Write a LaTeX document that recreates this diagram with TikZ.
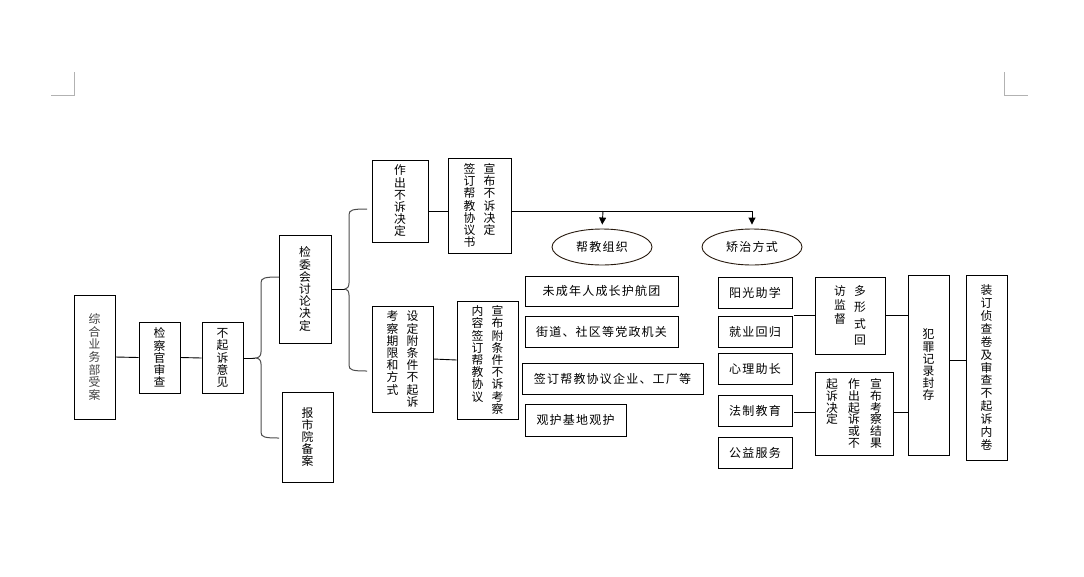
\documentclass[tikz,border=0pt]{standalone}
\usepackage{fontspec}
\setmainfont{Noto Sans CJK SC}
\newfontfamily\hfont[LetterSpace=10]{Noto Sans CJK SC}
\XeTeXlinebreaklocale "zh"
\XeTeXlinebreakskip=0pt plus 1pt
\usetikzlibrary{shapes.geometric,arrows.meta}
\newcommand{\vcol}[2][12.2pt]{\parbox[t]{14pt}{\baselineskip=#1\centering #2}}
\tikzset{
vbox/.style={draw,line width=0.9pt,inner sep=0pt,font=\fontsize{11.8}{12.2}\selectfont},
hbox/.style={draw,line width=0.9pt,inner sep=0pt,font=\hfont\fontsize{12}{14}\selectfont},
oval/.style={ellipse,draw=black!80!brown,line width=0.9pt,inner sep=0pt,minimum width=100pt,minimum height=36pt,font=\hfont\fontsize{12}{14}\selectfont},
brace/.style={draw=black!70,line width=1pt},
link/.style={line width=0.9pt},
cropmark/.style={draw=black!30,line width=0.8pt}
}
\begin{document}
\begin{tikzpicture}[x=1pt,y=-1pt]
\useasboundingbox (0,0) rectangle (1084,576);
\draw[cropmark] (51,95) -- (74,95) -- (74,72);
\draw[cropmark] (1004,72) -- (1004,95) -- (1028,95);
\node[vbox,minimum width=41pt,minimum height=124pt,text=black!75] (recv) at (94.5,357) {\vcol[12.7pt]{综合业务部受案}};
\node[vbox,minimum width=41pt,minimum height=71pt] (review) at (159.5,357.5) {\vcol{检察官审查}};
\node[vbox,minimum width=41pt,minimum height=71pt] (opinion) at (222.5,358) {\vcol{不起诉意见}};
\node[vbox,minimum width=52pt,minimum height=108pt] (committee) at (305,289) {\vcol{检委会讨论决定}};
\node[vbox,minimum width=51pt,minimum height=90pt] (file) at (307.5,437) {\vcol{报市院备案}};
\node[vbox,minimum width=56pt,minimum height=82pt] (decide) at (400,201) {\vcol{作出不诉决定}};
\node[vbox,minimum width=63pt,minimum height=95pt] (announce) at (479.5,205.5) {\vcol{签订帮教协议书}\hspace{6pt}\vcol{宣布不诉决定}};
\node[vbox,minimum width=61pt,minimum height=106pt] (setcond) at (402.5,359) {\vcol{考察期限和方式}\hspace{6pt}\vcol{设定附条件不起诉}};
\node[vbox,minimum width=61pt,minimum height=118pt] (condann) at (487.5,360) {\vcol{内容签订帮教协议}\hspace{6pt}\vcol{宣布附条件不诉考察}};
\node[oval] (org) at (602,247) {帮教组织};
\node[oval] (corr) at (752,247) {矫治方式};
\node[hbox,minimum width=153pt,minimum height=30pt] (org1) at (601.5,291) {未成年人成长护航团};
\node[hbox,minimum width=153pt,minimum height=31pt] (org2) at (601.5,331.5) {街道、社区等党政机关};
\node[hbox,minimum width=181pt,minimum height=31pt] (org3) at (612.5,378.5) {签订帮教协议企业、工厂等};
\node[hbox,minimum width=101pt,minimum height=32pt] (org4) at (575.5,420) {观护基地观护};
\node[hbox,minimum width=74pt,minimum height=31pt] (way1) at (755,292.5) {阳光助学};
\node[hbox,minimum width=74pt,minimum height=31pt] (way2) at (755,331.5) {就业回归};
\node[hbox,minimum width=74pt,minimum height=31pt] (way3) at (755,369) {心理助长};
\node[hbox,minimum width=74pt,minimum height=31pt] (way4) at (755,411) {法制教育};
\node[hbox,minimum width=74pt,minimum height=31pt] (way5) at (755,452.5) {公益服务};
\node[vbox,minimum width=70pt,minimum height=77pt] (visit) at (850,315.5) {\vcol[14pt]{访监督}\hspace{6pt}\vcol[16.5pt]{多形式回}};
\node[vbox,minimum width=78pt,minimum height=83pt] (result) at (854,413.5) {\vcol[11.8pt]{起诉决定}\hspace{8pt}\vcol[11.8pt]{作出起诉或不}\hspace{8pt}\vcol[11.8pt]{宣布考察结果}};
\node[vbox,minimum width=41pt,minimum height=180pt] (seal) at (928.5,365) {\vcol{犯罪记录封存}};
\node[vbox,minimum width=41pt,minimum height=185pt] (bind) at (986.5,367.5) {\vcol[12.9pt]{装订侦查卷及审查不起诉内卷}};
\draw[link] (recv.east) -- (review.west);
\draw[link] (review.east) -- (opinion.west);
\draw[link] (opinion.east) -- (255,358);
\draw[brace] (279,277) .. controls (264,277) and (261,278) .. (261,283) -- (261,352) .. controls (261,356) and (259,358) .. (255,358) .. controls (259,358) and (261,360) .. (261,364) -- (261,432) .. controls (261,437) and (264,438) .. (279,438);
\draw[link] (committee.east) -- (345,289);
\draw[brace] (367,209) .. controls (352,209) and (349,210) .. (349,215) -- (349,283) .. controls (349,287) and (347,289) .. (345,289) .. controls (347,289) and (349,291) .. (349,295) -- (349,365) .. controls (349,370) and (352,371) .. (367,371);
\coordinate (j1) at (603,211);
\coordinate (j2) at (752,211);
\draw[link] (decide.east |- j1) -- (announce.west |- j1);
\draw[link] (announce.east |- j1) -- (j2);
\draw[link,-{Triangle[length=7pt,width=7pt]},shorten >=4pt] (j1) -- (org.north);
\draw[link,-{Triangle[length=7pt,width=7pt]},shorten >=4pt] (j2) -- (corr.north);
\draw[link] (setcond.east) -- (condann.west);
\coordinate (w1) at (794,315);
\coordinate (w2) at (794,412);
\draw[link] (w1) -- (w1 -| visit.west);
\draw[link] (visit.east |- w1) -- (w1 -| seal.west);
\draw[link] (w2) -- (w2 -| result.west);
\draw[link] (result.east |- w2) -- (w2 -| seal.west);
\draw[link] (seal.east |- 0,360) -- (bind.west |- 0,360);
\end{tikzpicture}
\end{document}
